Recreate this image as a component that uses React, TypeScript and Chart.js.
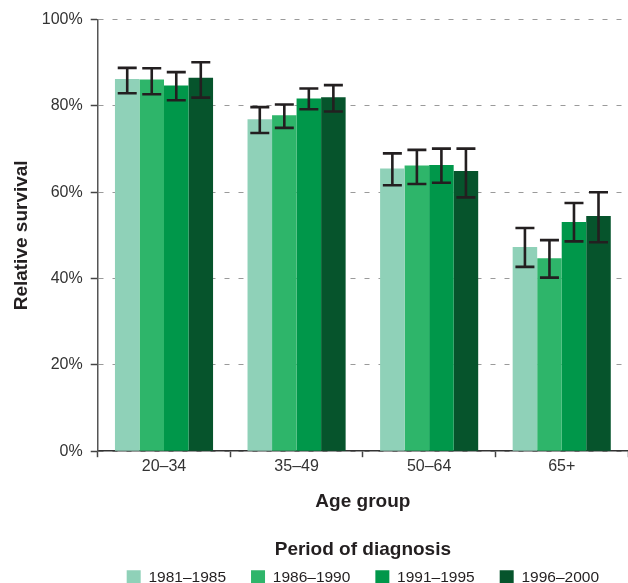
import React, { useEffect, useRef } from 'react';
import { Chart, registerables } from 'chart.js';

Chart.register(...registerables);

const ageGroups = ['20–34', '35–49', '50–64', '65+'];
const periods = ['1981–1985', '1986–1990', '1991–1995', '1996–2000'];

const survival1981 = [86.2, 76.9, 65.5, 47.3];
const survival1986 = [86.1, 77.8, 66.2, 44.7];
const survival1991 = [84.7, 81.7, 66.3, 53.1];
const survival1996 = [86.5, 82.0, 64.9, 54.5];

const lower1981 = [82.9, 73.7, 61.6, 42.7];
const upper1981 = [88.8, 79.7, 69.0, 51.7];
const lower1986 = [82.7, 74.9, 61.9, 40.2];
const upper1986 = [88.7, 80.3, 69.8, 48.9];
const lower1991 = [81.3, 79.2, 62.2, 48.6];
const upper1991 = [87.8, 84.0, 70.1, 57.5];
const lower1996 = [81.9, 78.7, 58.8, 48.4];
const upper1996 = [90.1, 84.8, 70.1, 60.0];

const yTickValues = [0, 20, 40, 60, 80, 100];

const barColors = ['#8fd1b8', '#2eb56a', '#00974a', '#06542c'];

const FONT = '"Liberation Sans", Arial, Helvetica, sans-serif';
const INK = '#231f20';

const errorBarPlugin = {
  id: 'errorBars',
  afterDatasetsDraw(chart: any) {
    const ctx = chart.ctx;
    const yScale = chart.scales.y;
    ctx.save();
    ctx.strokeStyle = INK;
    ctx.lineWidth = 2.6;
    ctx.lineCap = 'butt';
    ctx.setLineDash([]);
    chart.data.datasets.forEach((ds: any, i: number) => {
      const meta = chart.getDatasetMeta(i);
      if (meta.hidden) return;
      meta.data.forEach((bar: any, j: number) => {
        const x = bar.x;
        const yLo = yScale.getPixelForValue(ds.lower[j]);
        const yHi = yScale.getPixelForValue(ds.upper[j]);
        const half = 9.5;
        ctx.beginPath();
        ctx.moveTo(x, yLo);
        ctx.lineTo(x, yHi);
        ctx.moveTo(x - half, yHi);
        ctx.lineTo(x + half, yHi);
        ctx.moveTo(x - half, yLo);
        ctx.lineTo(x + half, yLo);
        ctx.stroke();
      });
    });
    ctx.restore();
  },
};

export default function App() {
  const canvasRef = useRef<HTMLCanvasElement | null>(null);

  useEffect(() => {
    if (!canvasRef.current) return;
    Chart.defaults.font.family = FONT;
    const series = [survival1981, survival1986, survival1991, survival1996];
    const lowers = [lower1981, lower1986, lower1991, lower1996];
    const uppers = [upper1981, upper1986, upper1991, upper1996];

    const chart = new Chart(canvasRef.current, {
      type: 'bar',
      data: {
        labels: ageGroups,
        datasets: periods.map((p, i) => ({
          label: p,
          data: series[i],
          lower: lowers[i],
          upper: uppers[i],
          backgroundColor: barColors[i],
          borderWidth: 0,
          categoryPercentage: 0.74,
          barPercentage: 1.0,
        })) as any,
      },
      options: {
        animation: false,
        responsive: true,
        maintainAspectRatio: false,
        layout: { padding: { top: 19.5, left: 0, right: 0, bottom: 0 } },
        plugins: {
          tooltip: { enabled: false },
          title: { display: false },
          legend: {
            display: true,
            position: 'bottom',
            fullSize: false,
            labels: {
              boxWidth: 14,
              boxHeight: 14,
              padding: 25,
              color: INK,
              font: { size: 15.5, family: FONT },
            },
            title: {
              display: true,
              text: 'Period of diagnosis',
              color: INK,
              font: { size: 19, weight: 'bold', family: FONT },
              padding: { top: 27.5, bottom: -19 },
            },
          },
        },
        scales: {
          x: {
            type: 'category',
            offset: true,
            grid: {
              display: true,
              offset: true,
              drawOnChartArea: false,
              drawTicks: true,
              tickLength: 6,
              tickColor: '#444',
              tickWidth: 1.5,
            },
            border: { display: true, color: '#333', width: 1.5 },
            ticks: {
              color: '#333',
              padding: 0,
              font: { size: 16, family: FONT },
            },
            title: {
              display: true,
              text: 'Age group',
              color: INK,
              font: { size: 19, weight: 'bold', family: FONT },
              padding: { top: 14, bottom: 0 },
            },
          },
          y: {
            min: 0,
            max: 100,
            afterBuildTicks: (scale: any) => {
              scale.ticks = yTickValues.map((v) => ({ value: v }));
            },
            grid: {
              color: '#9a9a9a',
              lineWidth: 1,
              drawTicks: true,
              tickLength: 7,
              tickColor: '#444',
              tickWidth: 1.5,
              tickBorderDash: [],
            },
            border: { display: true, color: '#555', width: 1.5, dash: [5, 9] },
            ticks: {
              color: '#333',
              padding: 8,
              font: { size: 16, family: FONT },
              callback: (v: any) => `${v}%`,
            },
            title: {
              display: true,
              text: 'Relative survival',
              color: INK,
              font: { size: 19, weight: 'bold', family: FONT },
              padding: { top: 10, bottom: 1 },
            },
          },
        },
      } as any,
      plugins: [errorBarPlugin],
    });
    return () => chart.destroy();
  }, []);

  return (
    <div
      style={{
        position: 'absolute',
        left: 0,
        top: 0,
        width: 628,
        height: 583,
        overflow: 'hidden',
        background: '#fff',
      }}
    >
      <div style={{ position: 'relative', width: 628, height: 595 }}>
        <canvas ref={canvasRef} />
      </div>
    </div>
  );
}
